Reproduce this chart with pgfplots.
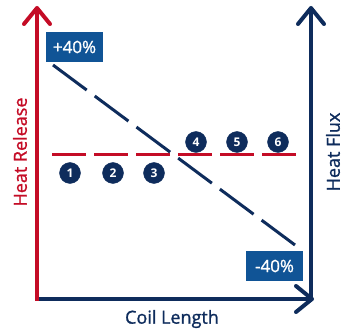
\documentclass[border=0pt]{standalone}
\usepackage{fontspec}
\setmainfont{Open Sans}
\newfontfamily\medfont{Open Sans}[FakeBold=1.2]
\usepackage{pgfplots}
\pgfplotsset{compat=1.18}
\definecolor{hred}{RGB}{196,12,38}
\definecolor{navy}{RGB}{14,44,92}
\definecolor{boxblue}{RGB}{16,84,150}
\begin{document}
\begin{tikzpicture}
\begin{axis}[width=354pt,height=335pt,scale only axis,hide axis,
  xmin=0,xmax=354,ymin=0,ymax=335,clip=false]
\addplot[draw=none] coordinates {(0,0) (354,335)};
% red dashed (heat release)
\addplot[hred, line width=3pt, dash pattern=on 34pt off 8pt] coordinates {(52,180) (296,180)};
% blue dashed (heat flux)
\addplot[navy, line width=3pt, dash pattern=on 42pt off 10pt] coordinates {(53,270) (295,90)};
% axes
\addplot[navy, line width=4pt] coordinates {(39,36) (312,36)};
\addplot[navy, line width=4pt, line join=round, line cap=round] coordinates {(296,49) (312,36) (296,23)};
\addplot[navy, line width=4pt] coordinates {(311,34) (311,327)};
\addplot[navy, line width=4pt, line join=round, line cap=round] coordinates {(298,311) (311,327) (324,311)};
\addplot[hred, line width=4pt] coordinates {(37,34) (37,327)};
\addplot[hred, line width=4pt, line join=round, line cap=round] coordinates {(24,311) (37,327) (50,311)};
% numbered circles
\addplot[only marks, mark=*, mark size=10.5pt, mark options={fill=navy, draw=navy},
  nodes near coords, point meta=explicit symbolic,
  nodes near coords style={anchor=center},
  every node near coord/.append style={anchor=center, text=white, font=\bfseries\fontsize{12}{12}\selectfont}]
  coordinates {(70,162)[1] (113,162)[2] (154,162)[3] (196,193)[4] (237,193)[5] (278,193)[6]};
% labels
\node[rotate=90, text=hred, font=\medfont\fontsize{18}{18}\selectfont] at (axis cs:20,183) {Heat Release};
\node[rotate=90, text=navy, font=\medfont\fontsize{18}{18}\selectfont] at (axis cs:333,183) {Heat Flux};
\node[text=navy, font=\medfont\fontsize{18}{18}\selectfont] at (axis cs:172,16) {Coil Length};
\node[fill=boxblue, text=white, minimum width=57pt, minimum height=30pt, inner sep=0pt,
  font=\medfont\fontsize{17}{17}\selectfont] at (axis cs:74.5,288) {+40\%};
\node[fill=boxblue, text=white, minimum width=57pt, minimum height=30pt, inner sep=0pt,
  font=\medfont\fontsize{17}{17}\selectfont] at (axis cs:274.5,69) {-40\%};
\end{axis}
\end{tikzpicture}
\end{document}
